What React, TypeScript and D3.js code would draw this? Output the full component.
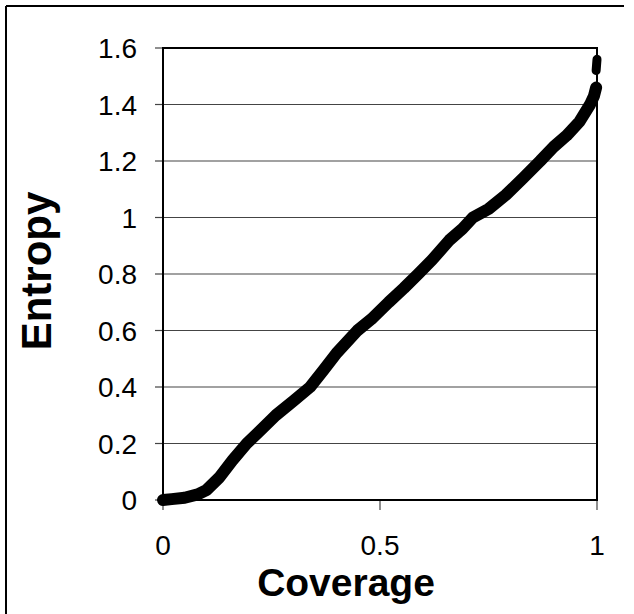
import React from "react";
import * as d3 from "d3";

const coverage = [0, 0.02, 0.05, 0.08, 0.1, 0.13, 0.16, 0.193, 0.22, 0.26, 0.3, 0.339, 0.37, 0.4, 0.448, 0.48, 0.52, 0.555, 0.588, 0.62, 0.66, 0.69, 0.714, 0.75, 0.79, 0.83, 0.869, 0.9, 0.93, 0.96, 0.984, 0.993, 0.998];
const entropy = [0, 0.003, 0.008, 0.02, 0.035, 0.08, 0.14, 0.2, 0.24, 0.3, 0.35, 0.4, 0.46, 0.52, 0.6, 0.64, 0.7, 0.75, 0.8, 0.85, 0.92, 0.96, 1.0, 1.03, 1.08, 1.14, 1.2, 1.25, 1.29, 1.34, 1.4, 1.43, 1.46];
const topCoverage = [0.998, 0.999, 1.0];
const topEntropy = [1.52, 1.54, 1.56];
const yTicks = [0, 0.2, 0.4, 0.6, 0.8, 1, 1.2, 1.4, 1.6];
const xTicks = [0, 0.5, 1];

export default function App() {
  const W = 634, H = 614;
  const left = 163, right = 597, top = 48, bottom = 500;
  const x = d3.scaleLinear().domain([0, 1]).range([left, right]);
  const y = d3.scaleLinear().domain([0, 1.6]).range([bottom, top]);
  const pts = coverage.map((c, i) => [c, entropy[i]] as [number, number]);
  const topPts = topCoverage.map((c, i) => [c, topEntropy[i]] as [number, number]);
  const line = d3.line<[number, number]>().x(d => x(d[0])).y(d => y(d[1])).curve(d3.curveLinear);
  const font = "'Liberation Sans', Arial, sans-serif";
  return (
    <svg width={W} height={H} style={{ position: "absolute", left: 0, top: 0, background: "#fff" }} fontFamily={font}>
      <rect x={0} y={0} width={W} height={H} fill="#fff" />
      <line x1={6} y1={6} x2={624} y2={6} stroke="#000" strokeWidth={2} />
      <line x1={6} y1={6} x2={6} y2={H} stroke="#000" strokeWidth={2} />
      {yTicks.map(t => (
        <g key={"y" + t}>
          {t > 0 && t < 1.6 && <line x1={left} x2={right} y1={y(t)} y2={y(t)} stroke="#444" strokeWidth={1.2} />}
          <line x1={left - 8} x2={left} y1={y(t)} y2={y(t)} stroke="#444" strokeWidth={1.2} />
          <text x={137} y={y(t)} dy="0.36em" textAnchor="end" fontSize={28}>{String(t)}</text>
        </g>
      ))}
      {xTicks.map(t => (
        <g key={"x" + t}>
          <line x1={x(t)} x2={x(t)} y1={bottom} y2={bottom + 10} stroke="#444" strokeWidth={1.2} />
          <text x={x(t)} y={555} textAnchor="middle" fontSize={28}>{String(t)}</text>
        </g>
      ))}
      <rect x={left} y={top} width={right - left} height={bottom - top} fill="none" stroke="#000" strokeWidth={2} />
      <path d={line(pts) || ""} fill="none" stroke="#000" strokeWidth={12} strokeLinejoin="round" strokeLinecap="round" />
      <path d={line(topPts) || ""} fill="none" stroke="#000" strokeWidth={9} strokeLinecap="round" />
      <text x={346} y={596} textAnchor="middle" fontSize={39} fontWeight="bold">Coverage</text>
      <text transform={`translate(51,271) rotate(-90)`} textAnchor="middle" fontSize={42} fontWeight="bold">Entropy</text>
    </svg>
  );
}
